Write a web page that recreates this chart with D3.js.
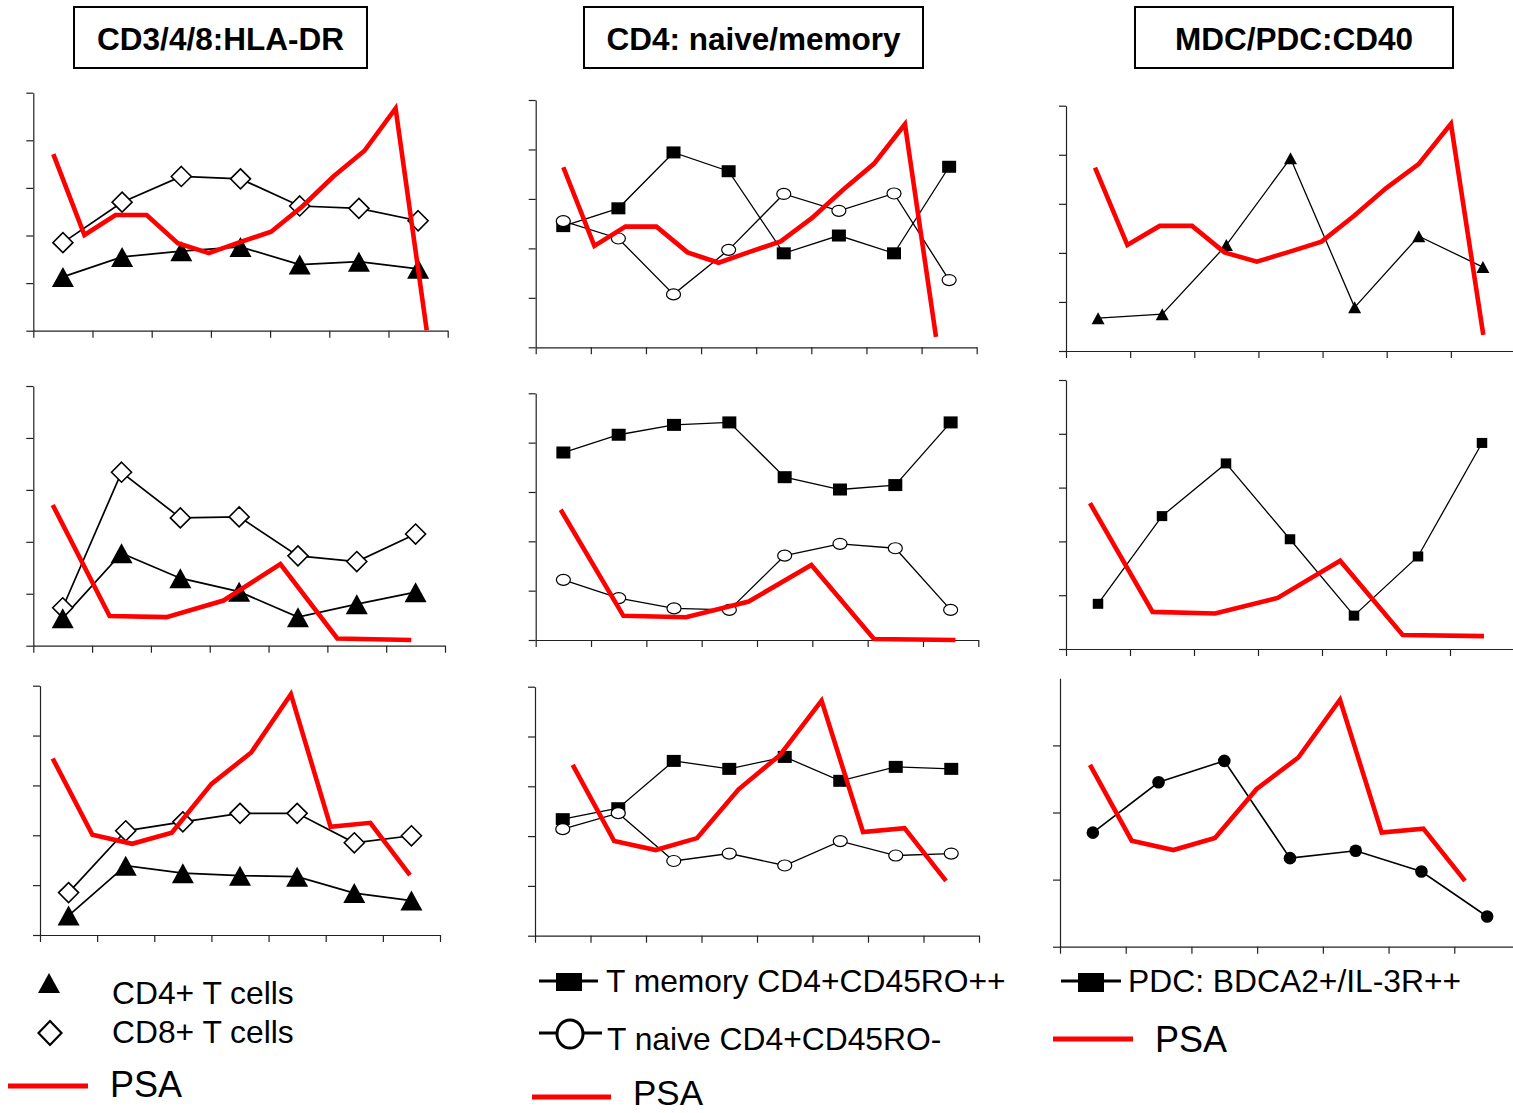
<!DOCTYPE html>
<html><head><meta charset="utf-8">
<script src="https://cdn.jsdelivr.net/npm/d3@7"></script>
<style>
html,body{margin:0;padding:0;background:#fff;}
svg{display:block;}
text{font-family:"Liberation Sans",Arial,sans-serif;fill:#000;}
</style></head>
<body>
<svg id="chart" width="1513" height="1113"></svg>
<script>
// ---------------- DATA ----------------
const visits7 = ["V1","V2","V3","V4","V5","V6","V7"];
const visits8 = ["V1","V2","V3","V4","V5","V6","V7","V8"];
const titles = ["CD3/4/8:HLA-DR","CD4: naive/memory","MDC/PDC:CD40"];

// PSA sampling times (index units)
const psaT_r1 = [0,1,2,3,4,5,6,7,8,9,10,11,12];
const psaT_r2 = [0,1,2,3,4,5,6.3];
const psaT_r3 = [0,1,2,3,4,5,6,7,8,9];

// Row 1
const hlaCD4_r1 = [1.13,1.55,1.67,1.76,1.39,1.45,1.30];
const hlaCD8_r1 = [1.85,2.70,3.24,3.19,2.62,2.57,2.31];
const psaHla_r1 = [3.71,2.01,2.43,2.43,1.84,1.63,1.86,2.08,2.61,3.24,3.78,4.67,0.01];
const tMem_r1   = [2.45,2.81,3.94,3.56,1.90,2.26,1.90,3.65];
const tNaive_r1 = [2.55,2.20,1.07,1.97,3.10,2.76,3.11,1.36];
const psaCD4_r1 = [3.64,2.05,2.44,2.44,1.92,1.71,1.93,2.14,2.61,3.18,3.71,4.51,0.21];
const dc_r1     = [0.67,0.75,2.16,3.93,0.89,2.34,1.71];
const psaDC_r1  = [3.74,2.16,2.55,2.55,2.01,1.82,2.02,2.23,2.75,3.32,3.81,4.63,0.33];

// Row 2
const hlaCD4_r2 = [0.53,1.78,1.30,1.04,0.55,0.80,1.03];
const hlaCD8_r2 = [0.73,3.34,2.46,2.48,1.73,1.62,2.15];
const psaHla_r2 = [2.71,0.57,0.55,0.87,1.57,0.14,0.11];
const tMem_r2   = [3.80,4.16,4.36,4.41,3.30,3.05,3.14,4.41];
const tNaive_r2 = [1.22,0.85,0.64,0.61,1.71,1.95,1.86,0.61];
const psaCD4_r2 = [2.64,0.49,0.46,0.78,1.52,0.02,0.00];
const dc_r2     = [0.84,2.47,3.45,2.04,0.62,1.72,3.83];
const psaDC_r2  = [2.71,0.69,0.66,0.95,1.64,0.26,0.24];

// Row 3
const hlaCD4_r3 = [0.39,1.39,1.24,1.19,1.17,0.84,0.69];
const hlaCD8_r3 = [0.85,2.09,2.27,2.44,2.44,1.85,1.99];
const psaHla_r3 = [3.54,2.01,1.83,2.05,3.03,3.66,4.83,2.17,2.25,1.20];
const tMem_r3   = [2.34,2.56,3.51,3.35,3.59,3.11,3.39,3.35];
const tNaive_r3 = [2.14,2.46,1.50,1.65,1.41,1.90,1.61,1.65];
const psaCD4_r3 = [3.43,1.90,1.72,1.96,2.94,3.63,4.72,2.08,2.16,1.10];
const dc_r3     = [1.70,2.45,2.77,1.32,1.43,1.12,0.45];
const psaDC_r3  = [2.71,1.58,1.44,1.62,2.35,2.82,3.68,1.70,1.76,0.98];

// ---------------- LAYOUT ----------------
const M = {
  tri:{w:22,h:20}, dia:{s:10}, sq:{w:14,h:12}, circ:{rx:7,ry:5.5},
  triS:{w:13,h:12}, sqS:{w:10.5,h:10}, dot:{r:6.3}
};
const panels = [
 {box:[33.3,447.7,92.7,330.7], ymax:5, yt:[0,1,2,3,4,5], cats:visits7, lw:1.7,
  series:[{d:hlaCD4_r1,m:"tri"},{d:hlaCD8_r1,m:"dia"}], psa:psaHla_r1, t:psaT_r1, td:[0,12], tr:[53.3,426.7]},
 {box:[535.7,976.7,100,347.3], ymax:5, yt:[0,1,2,3,4,5], cats:visits8, lw:1.3,
  series:[{d:tMem_r1,m:"sq"},{d:tNaive_r1,m:"circ"}], psa:psaCD4_r1, t:psaT_r1, td:[0,12], tr:[563.3,936]},
 {box:[1066,1515,105.7,351], ymax:5, yt:[0,1,2,3,4,5], cats:visits7, lw:1.3,
  series:[{d:dc_r1,m:"triS"}], psa:psaDC_r1, t:psaT_r1, td:[0,12], tr:[1095,1483.3]},
 {box:[33.3,445,386,645.7], ymax:5, yt:[0,1,2,3,4,5], cats:visits7, lw:1.7,
  series:[{d:hlaCD8_r2,m:"dia"},{d:hlaCD4_r2,m:"tri"}], psa:psaHla_r2, t:psaT_r2, td:[0,5], tr:[52.7,337.3]},
 {box:[535.7,978.3,393.3,640], ymax:5, yt:[0,1,2,3,4,5], cats:visits8, lw:1.3,
  series:[{d:tMem_r2,m:"sq"},{d:tNaive_r2,m:"circ"}], psa:psaCD4_r2, t:psaT_r2, td:[0,5], tr:[560.7,874]},
 {box:[1066,1514,380,649], ymax:5, yt:[0,1,2,3,4,5], cats:visits7, lw:1.3,
  series:[{d:dc_r2,m:"sqS"}], psa:psaDC_r2, t:psaT_r2, td:[0,5], tr:[1090,1402.7]},
 {box:[40,440,685.7,935], ymax:5, yt:[0,1,2,3,4,5], cats:visits7, lw:1.7,
  series:[{d:hlaCD8_r3,m:"dia"},{d:hlaCD4_r3,m:"tri"}], psa:psaHla_r3, t:psaT_r3, td:[0,9], tr:[52.7,410]},
 {box:[535,979,686.7,935.7], ymax:5, yt:[0,1,2,3,4,5], cats:visits8, lw:1.3,
  series:[{d:tMem_r3,m:"sq"},{d:tNaive_r3,m:"circ"}], psa:psaCD4_r3, t:psaT_r3, td:[0,9], tr:[572.7,946]},
 {box:[1060,1520,678.3,946.7], ymax:4, yt:[0,1,2,3], cats:visits7, lw:1.6,
  series:[{d:dc_r3,m:"dot"}], psa:psaDC_r3, t:psaT_r3, td:[0,9], tr:[1090,1465]}
];

const svg = d3.select("#chart");

function drawMarker(sel, type){
  if(type==="tri"||type==="triS"){
    const s = M[type];
    sel.append("path").attr("d",`M0,${-s.h/2}L${s.w/2},${s.h/2}L${-s.w/2},${s.h/2}Z`).attr("fill","#000");
  } else if(type==="dia"){
    const s = M.dia.s;
    sel.append("path").attr("d",`M0,${-s}L${s},0L0,${s}L${-s},0Z`).attr("fill","#fff").attr("stroke","#000").attr("stroke-width",1.6);
  } else if(type==="sq"||type==="sqS"){
    const s = M[type];
    sel.append("rect").attr("x",-s.w/2).attr("y",-s.h/2).attr("width",s.w).attr("height",s.h).attr("fill","#000");
  } else if(type==="circ"){
    sel.append("ellipse").attr("rx",M.circ.rx).attr("ry",M.circ.ry).attr("fill","#fff").attr("stroke","#000").attr("stroke-width",1.2);
  } else if(type==="dot"){
    sel.append("circle").attr("r",M.dot.r).attr("fill","#000");
  }
}

panels.forEach(p=>{
  const [x0,x1,y0,y1] = p.box;
  const n = p.cats.length;
  const x = d3.scaleLinear().domain([0,n]).range([x0,x1]);
  const y = d3.scaleLinear().domain([0,p.ymax]).range([y1,y0]);
  const xt = d3.scaleLinear().domain(p.td).range(p.tr);
  const g = svg.append("g");

  const ax = g.append("g").attr("transform",`translate(0,${y1})`)
    .call(d3.axisBottom(x).tickValues(d3.range(n+1)).tickSize(7).tickSizeOuter(0).tickFormat(""));
  const ay = g.append("g").attr("transform",`translate(${x0},0)`)
    .call(d3.axisLeft(y).tickValues(p.yt).tickSize(7).tickSizeOuter(0).tickFormat(""));
  [ax,ay].forEach(a=>{a.selectAll("path,line").attr("stroke","#222").attr("stroke-width",1.2);});

  const line = d3.line().x((d,i)=>x(i+0.5)).y(d=>y(d));
  p.series.forEach(s=>{
    g.append("path").datum(s.d).attr("d",line).attr("fill","none").attr("stroke","#000").attr("stroke-width",p.lw);
  });
  p.series.forEach(s=>{
    s.d.forEach((v,i)=>{
      const m = g.append("g").attr("transform",`translate(${x(i+0.5)},${y(v)})`);
      drawMarker(m,s.m);
    });
  });
  const pl = d3.line().x((d,i)=>xt(p.t[i])).y(d=>y(d));
  g.append("path").datum(p.psa).attr("d",pl).attr("fill","none").attr("stroke","#ff0000")
    .attr("stroke-width",4.6).attr("stroke-linejoin","miter").attr("stroke-miterlimit",3);
});

// Titles
const tbox = [[74,367],[584,923],[1135,1453]];
titles.forEach((t,i)=>{
  const [a,b] = tbox[i];
  svg.append("rect").attr("x",a).attr("y",7).attr("width",b-a).attr("height",61)
    .attr("fill","#fff").attr("stroke","#000").attr("stroke-width",2);
  svg.append("text").attr("x",(a+b)/2).attr("y",49.5).attr("text-anchor","middle")
    .attr("font-size",31.5).attr("font-weight","bold").text(t);
});

// Legends
const L = svg.append("g");
// column 1
{ const g = L.append("g").attr("transform","translate(49,983)"); drawMarker(g,"tri"); }
{ const g = L.append("g").attr("transform","translate(50,1033)");
  g.append("path").attr("d","M0,-12L11.5,0L0,12L-11.5,0Z").attr("fill","#fff").attr("stroke","#000").attr("stroke-width",2.2); }
L.append("text").attr("x",112).attr("y",1004).attr("font-size",31.8).text("CD4+ T cells");
L.append("text").attr("x",112).attr("y",1043).attr("font-size",31.8).text("CD8+ T cells");
L.append("line").attr("x1",8).attr("x2",88).attr("y1",1086).attr("y2",1086).attr("stroke","#ff0000").attr("stroke-width",5);
L.append("text").attr("x",110).attr("y",1097).attr("font-size",36).text("PSA");
// column 2
L.append("line").attr("x1",539).attr("x2",598).attr("y1",981).attr("y2",981).attr("stroke","#000").attr("stroke-width",3);
L.append("rect").attr("x",556).attr("y",973).attr("width",26).attr("height",18).attr("fill","#000");
L.append("text").attr("x",606).attr("y",992).attr("font-size",31.8).text("T memory CD4+CD45RO++");
L.append("line").attr("x1",539).attr("x2",602).attr("y1",1033).attr("y2",1033).attr("stroke","#000").attr("stroke-width",3);
L.append("ellipse").attr("cx",570).attr("cy",1034).attr("rx",13).attr("ry",14).attr("fill","#fff").attr("stroke","#000").attr("stroke-width",3);
L.append("text").attr("x",607).attr("y",1050).attr("font-size",31.8).text("T naive CD4+CD45RO-");
L.append("line").attr("x1",532).attr("x2",611).attr("y1",1097).attr("y2",1097).attr("stroke","#ff0000").attr("stroke-width",5);
L.append("text").attr("x",633).attr("y",1104.5).attr("font-size",35).text("PSA");
// column 3
L.append("line").attr("x1",1061).attr("x2",1121).attr("y1",981).attr("y2",981).attr("stroke","#000").attr("stroke-width",3);
L.append("rect").attr("x",1078).attr("y",973).attr("width",26).attr("height",19).attr("fill","#000");
L.append("text").attr("x",1128).attr("y",992).attr("font-size",31.8).text("PDC: BDCA2+/IL-3R++");
L.append("line").attr("x1",1053).attr("x2",1133).attr("y1",1039).attr("y2",1039).attr("stroke","#ff0000").attr("stroke-width",5);
L.append("text").attr("x",1155).attr("y",1052).attr("font-size",36).text("PSA");
</script>
</body></html>
